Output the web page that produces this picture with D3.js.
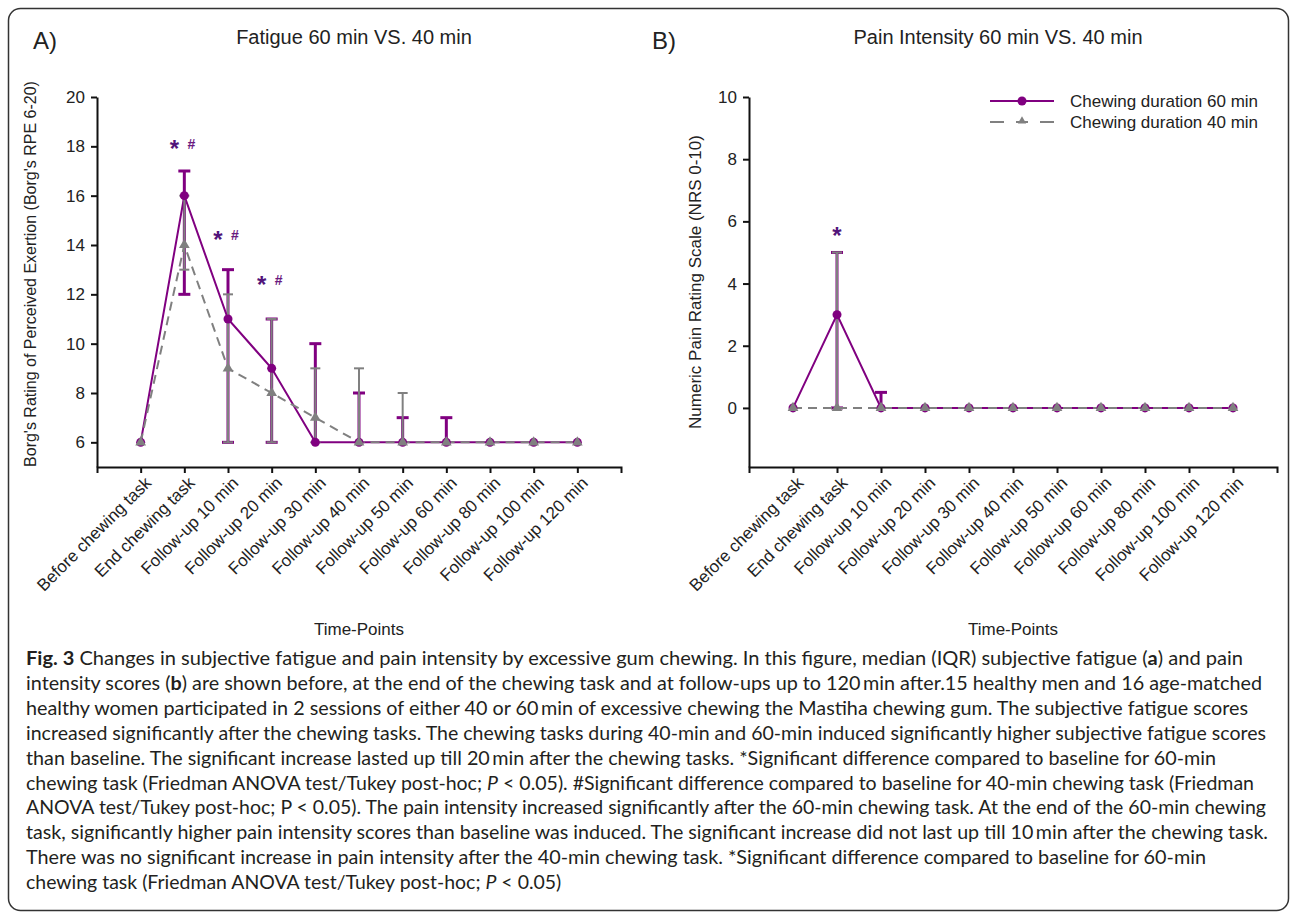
<!DOCTYPE html>
<html>
<head>
<meta charset="utf-8">
<script src="https://cdn.jsdelivr.net/npm/d3@7"></script>
<style>
  body { margin: 0; background: #fff; }
  svg text { font-family: "Liberation Sans", Arial, sans-serif; fill: #222; }
  .caption text { font-family: Lato, "Open Sans", sans-serif; fill: #231f20; }
</style>
</head>
<body>
<svg id="fig" width="1292" height="919"></svg>
<script>
const timePoints = ["Before chewing task", "End chewing task", "Follow-up 10 min", "Follow-up 20 min",
  "Follow-up 30 min", "Follow-up 40 min", "Follow-up 50 min", "Follow-up 60 min",
  "Follow-up 80 min", "Follow-up 100 min", "Follow-up 120 min"];

// fatigue, median + IQR (Borg RPE)
const fatigue60 = [6, 16, 11, 9, 6, 6, 6, 6, 6, 6, 6];
const fatigue60Lo = [6, 12, 6, 6, 6, 6, 6, 6, 6, 6, 6];
const fatigue60Hi = [6, 17, 13, 11, 10, 8, 7, 7, 6, 6, 6];
const fatigue40 = [6, 14, 9, 8, 7, 6, 6, 6, 6, 6, 6];
const fatigue40Lo = [6, 13, 6, 6, 6, 6, 6, 6, 6, 6, 6];
const fatigue40Hi = [6, 16, 12, 11, 9, 9, 8, 6, 6, 6, 6];
const fatigueTicks = [6, 8, 10, 12, 14, 16, 18, 20];
const fatigueSigIdx = [1, 2, 3];
const fatigueSigVal = [18.1, 14.4, 12.6];

// pain, median + IQR (NRS)
const pain60 = [0, 3, 0, 0, 0, 0, 0, 0, 0, 0, 0];
const pain60Lo = [0, 0, 0, 0, 0, 0, 0, 0, 0, 0, 0];
const pain60Hi = [0, 5, 0.5, 0, 0, 0, 0, 0, 0, 0, 0];
const pain40 = [0, 0, 0, 0, 0, 0, 0, 0, 0, 0, 0];
const pain40Lo = [0, 0, 0, 0, 0, 0, 0, 0, 0, 0, 0];
const pain40Hi = [0, 5, 0, 0, 0, 0, 0, 0, 0, 0, 0];
const painTicks = [0, 2, 4, 6, 8, 10];
const painSigIdx = [1];
const painSigVal = [5.7];

const seriesNames = ["Chewing duration 60 min", "Chewing duration 40 min"];

const captionLines = [
  [["Fig. 3", "b"], [" Changes in subjective fatigue and pain intensity by excessive gum chewing. In this figure, median (IQR) subjective fatigue ("], ["a", "b"], [") and pain"]],
  [["intensity scores ("], ["b", "b"], [") are shown before, at the end of the chewing task and at follow-ups up to 120\u2009min after.15 healthy men and 16 age-matched"]],
  [["healthy women participated in 2 sessions of either 40 or 60\u2009min of excessive chewing the Mastiha chewing gum. The subjective fatigue scores"]],
  [["increased significantly after the chewing tasks. The chewing tasks during 40-min and 60-min induced significantly higher subjective fatigue scores"]],
  [["than baseline. The significant increase lasted up till 20\u2009min after the chewing tasks. *Significant difference compared to baseline for 60-min"]],
  [["chewing task (Friedman ANOVA test/Tukey post-hoc; "], ["P", "i"], [" <  0.05). #Significant difference compared to baseline for 40-min chewing task (Friedman"]],
  [["ANOVA test/Tukey post-hoc; P <  0.05). The pain intensity increased significantly after the 60-min chewing task. At the end of the 60-min chewing"]],
  [["task, significantly higher pain intensity scores than baseline was induced. The significant increase did not last up till 10\u2009min after the chewing task."]],
  [["There was no significant increase in pain intensity after the 40-min chewing task. *Significant difference compared to baseline for 60-min"]],
  [["chewing task (Friedman ANOVA test/Tukey post-hoc; "], ["P", "i"], [" < 0.05)"]]
];
// right edge of each caption line in the reference (last line left ragged)
const captionRight = [1243, 1262, 1248, 1266, 1216, 1254, 1266, 1268, 1206, null];

const purple = "#800080";
const gray = "#808080";
const sigColor = "#52147a";
const yBottom = 467, yTop = 97;

const svg = d3.select("#fig");

svg.append("rect")
  .attr("x", 8.5).attr("y", 8.5)
  .attr("width", 1280).attr("height", 902)
  .attr("rx", 12)
  .attr("fill", "none")
  .attr("stroke", "#333")
  .attr("stroke-width", 1.5);

function errorBars(g, x, y, med, lo, hi, color, w, capW) {
  const eb = g.append("g").attr("stroke", color).attr("stroke-width", w).attr("fill", "none");
  med.forEach((m, i) => {
    if (lo[i] === m && hi[i] === m) return;
    const cx = x(timePoints[i]);
    eb.append("line").attr("x1", cx).attr("x2", cx).attr("y1", y(lo[i])).attr("y2", y(hi[i]));
    if (hi[i] !== m)
      eb.append("line").attr("x1", cx - capW / 2).attr("x2", cx + capW / 2).attr("y1", y(hi[i])).attr("y2", y(hi[i]));
    if (lo[i] !== m)
      eb.append("line").attr("x1", cx - capW / 2).attr("x2", cx + capW / 2).attr("y1", y(lo[i])).attr("y2", y(lo[i]));
  });
}

function drawPanel(opt) {
  const g = svg.append("g");
  const x = d3.scalePoint().domain(timePoints).range([opt.x0, opt.x1]).padding(1);
  const y = d3.scaleLinear().domain(opt.yDomain).range([yBottom, yTop]);

  // panel letter and title
  g.append("text").attr("x", opt.letterX).attr("y", 49).attr("font-size", 24).text(opt.letter);
  g.append("text").attr("x", opt.titleX).attr("y", 44).attr("font-size", 20)
    .attr("text-anchor", "middle").text(opt.title);

  // axes
  const xAxis = g.append("g")
    .attr("transform", `translate(0,${yBottom})`)
    .call(d3.axisBottom(x).tickSizeInner(6).tickSizeOuter(6));
  xAxis.selectAll(".tick text")
    .attr("font-size", 17)
    .attr("text-anchor", "end")
    .attr("dy", 0).attr("y", 0)
    .attr("transform", "translate(11,17) rotate(-45)");

  const yAxis = g.append("g")
    .attr("transform", `translate(${opt.x0},0)`)
    .call(d3.axisLeft(y).tickValues(opt.ticks).tickSizeInner(6).tickSizeOuter(0));
  yAxis.selectAll(".tick text").attr("font-size", 17).attr("x", -12);

  g.selectAll(".domain, .tick line").attr("stroke", "#111").attr("stroke-width", 2);
  g.selectAll(".tick text").attr("fill", "#222").attr("font-family", '"Liberation Sans", Arial, sans-serif');

  g.append("text")
    .attr("transform", `translate(${opt.yLabelX},${opt.yLabelY}) rotate(-90)`)
    .attr("text-anchor", "middle")
    .attr("font-size", opt.yLabelSize)
    .text(opt.yLabel);

  g.append("text")
    .attr("x", (opt.x0 + opt.x1) / 2).attr("y", 635)
    .attr("text-anchor", "middle").attr("font-size", 17)
    .text("Time-Points");

  const line = d3.line().x((d, i) => x(timePoints[i])).y(d => y(d));

  // 60 min series
  g.append("path").datum(opt.s60).attr("d", line)
    .attr("fill", "none").attr("stroke", purple).attr("stroke-width", 2);
  errorBars(g, x, y, opt.s60, opt.s60Lo, opt.s60Hi, purple, 3, 12);

  // 40 min series
  g.append("path").datum(opt.s40).attr("d", line)
    .attr("fill", "none").attr("stroke", gray).attr("stroke-width", 2)
    .attr("stroke-dasharray", "9,6");
  errorBars(g, x, y, opt.s40, opt.s40Lo, opt.s40Hi, gray, 2, 10);

  g.selectAll(".dot60").data(opt.s60).enter().append("circle")
    .attr("cx", (d, i) => x(timePoints[i])).attr("cy", d => y(d))
    .attr("r", 4.5).attr("fill", purple);
  g.selectAll(".tri40").data(opt.s40).enter().append("path")
    .attr("d", d3.symbol(d3.symbolTriangle, 50))
    .attr("transform", (d, i) => `translate(${x(timePoints[i])},${y(d)})`)
    .attr("fill", gray);

  // significance marks
  opt.sigIdx.forEach((idx, k) => {
    const cx = x(timePoints[idx]);
    const cy = y(opt.sigVal[k]);
    g.append("text").attr("x", opt.hash ? cx - 10 : cx).attr("y", cy + 13)
      .attr("text-anchor", "middle").attr("font-size", 24).attr("font-weight", "bold")
      .style("fill", sigColor).text("*");
    if (opt.hash)
      g.append("text").attr("x", cx + 7).attr("y", cy + 5)
        .attr("text-anchor", "middle").attr("font-size", 14).attr("font-weight", "bold")
        .style("fill", "#6a1a80").text("#");
  });
  return g;
}

drawPanel({
  letter: "A)", letterX: 33, title: "Fatigue 60 min VS. 40 min", titleX: 354,
  x0: 97, x1: 621, yDomain: [5, 20], ticks: fatigueTicks,
  yLabel: "Borg's Rating of Perceived Exertion (Borg's RPE 6-20)", yLabelX: 36, yLabelY: 274, yLabelSize: 16,
  s60: fatigue60, s60Lo: fatigue60Lo, s60Hi: fatigue60Hi,
  s40: fatigue40, s40Lo: fatigue40Lo, s40Hi: fatigue40Hi,
  sigIdx: fatigueSigIdx, sigVal: fatigueSigVal, hash: true
});

const panelB = drawPanel({
  letter: "B)", letterX: 652, title: "Pain Intensity 60 min VS. 40 min", titleX: 998,
  x0: 749, x1: 1277, yDomain: [-1.9, 10], ticks: painTicks,
  yLabel: "Numeric Pain Rating Scale (NRS 0-10)", yLabelX: 701, yLabelY: 282, yLabelSize: 17,
  s60: pain60, s60Lo: pain60Lo, s60Hi: pain60Hi,
  s40: pain40, s40Lo: pain40Lo, s40Hi: pain40Hi,
  sigIdx: painSigIdx, sigVal: painSigVal, hash: false
});

// legend (panel B)
const legend = panelB.append("g").attr("transform", "translate(990,101)");
seriesNames.forEach((name, i) => {
  const row = legend.append("g").attr("transform", `translate(0,${i * 21})`);
  row.append("line").attr("x1", 0).attr("x2", 64).attr("y1", 0).attr("y2", 0)
    .attr("stroke", i === 0 ? purple : gray).attr("stroke-width", 2)
    .attr("stroke-dasharray", i === 0 ? null : "14,12,12,12,14");
  if (i === 0)
    row.append("circle").attr("cx", 32).attr("r", 4.5).attr("fill", purple);
  else
    row.append("path").attr("d", d3.symbol(d3.symbolTriangle, 30)).attr("transform", "translate(32,-1)").attr("fill", gray);
  row.append("text").attr("x", 80).attr("y", 6).attr("font-size", 17).text(name);
});

// caption
const cap = svg.append("g").attr("class", "caption");
captionLines.forEach((parts, k) => {
  const t = cap.append("text").attr("x", 26).attr("y", 665 + k * 24.9).attr("font-size", 17);
  parts.forEach(p => {
    const s = t.append("tspan").text(p[0]);
    if (p[1] === "b") s.attr("font-weight", "bold");
    if (p[1] === "i") s.attr("font-style", "italic");
  });
});
// pick a size where no line is wider than its reference edge, then stretch each line to it
let fit = Infinity;
cap.selectAll("text").each(function(d, k) {
  if (captionRight[k]) fit = Math.min(fit, (captionRight[k] - 26) / this.getComputedTextLength());
});
cap.selectAll("text").attr("font-size", 17 * fit).each(function(d, k) {
  if (captionRight[k]) {
    d3.select(this).attr("textLength", captionRight[k] - 26).attr("lengthAdjust", "spacingAndGlyphs");
  }
});
</script>
</body>
</html>
